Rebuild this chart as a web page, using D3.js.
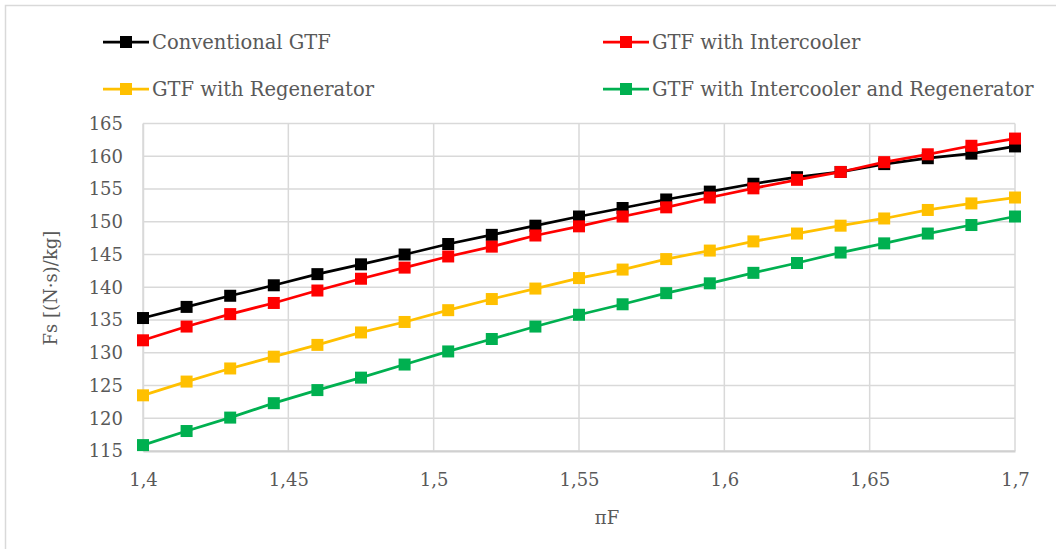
<!DOCTYPE html>
<html><head><meta charset="utf-8">
<script src="https://cdn.jsdelivr.net/npm/d3@7"></script>
<style>body{margin:0;background:#fff}svg{display:block}</style>
</head><body><svg id="c" width="1056" height="549"></svg>
<script>
const piF = [1.4,1.415,1.43,1.445,1.46,1.475,1.49,1.505,1.52,1.535,1.55,1.565,1.58,1.595,1.61,1.625,1.64,1.655,1.67,1.685,1.7];
const conventional = [135.3,137.0,138.7,140.3,142.0,143.5,145.0,146.6,148.0,149.4,150.8,152.1,153.4,154.6,155.8,156.8,157.6,158.8,159.7,160.4,161.5];
const intercooler = [131.9,134.0,135.9,137.6,139.5,141.3,143.0,144.7,146.2,147.9,149.3,150.8,152.2,153.7,155.1,156.4,157.6,159.1,160.3,161.6,162.7];
const regenerator = [123.5,125.6,127.6,129.4,131.2,133.1,134.7,136.5,138.2,139.8,141.4,142.7,144.3,145.6,147.0,148.2,149.4,150.5,151.8,152.8,153.7];
const interRegen = [115.9,118.05,120.1,122.3,124.3,126.2,128.2,130.2,132.1,134.0,135.8,137.4,139.1,140.6,142.2,143.7,145.3,146.7,148.2,149.5,150.8];
const seriesNames = ["Conventional GTF","GTF with Intercooler","GTF with Regenerator","GTF with Intercooler and Regenerator"];
const seriesColors = ["#000000","#FF0000","#FFC000","#00B050"];
const xTicks = [1.4,1.45,1.5,1.55,1.6,1.65,1.7];
const yTicks = [115,120,125,130,135,140,145,150,155,160,165];
const xTitle = "πF";
const yTitle = "Fs [(N·s)/kg]";

const allSeries = [conventional, intercooler, regenerator, interRegen];
const svg = d3.select("#c");
const font = "'DejaVu Serif', Georgia, serif";
const txt = "#595959";

svg.append("rect").attr("x",5.5).attr("y",5.5).attr("width",1100).attr("height",600)
  .attr("fill","none").attr("stroke","#d9d9d9").attr("stroke-width",1.5);

const x = d3.scaleLinear().domain([1.4,1.7]).range([143,1015]);
const y = d3.scaleLinear().domain([115,165]).range([451,123.5]);

const g = svg.append("g");
g.selectAll(".hg").data(yTicks).join("line")
  .attr("x1",x(1.4)).attr("x2",x(1.7)).attr("y1",d=>y(d)).attr("y2",d=>y(d))
  .attr("stroke","#d9d9d9").attr("stroke-width",1.5);
g.selectAll(".vg").data(xTicks).join("line")
  .attr("y1",y(115)).attr("y2",y(165)).attr("x1",d=>x(d)).attr("x2",d=>x(d))
  .attr("stroke","#d9d9d9").attr("stroke-width",1.5);

const fmt = d => String(d).replace(".",",");
const xAxis = svg.append("g").attr("transform",`translate(0,${y(115)})`)
  .call(d3.axisBottom(x).tickValues(xTicks).tickFormat(fmt).tickSize(0).tickPadding(22));
xAxis.select(".domain").attr("stroke","#d0d0d0").attr("stroke-width",2);
xAxis.selectAll("text").attr("font-family",font).attr("font-size",18).attr("fill",txt);

const yAxis = svg.append("g").attr("transform",`translate(${x(1.4)},0)`)
  .call(d3.axisLeft(y).tickValues(yTicks).tickSize(0).tickPadding(20));
yAxis.select(".domain").attr("stroke","#d9d9d9").attr("stroke-width",1.5);
yAxis.selectAll("text").attr("font-family",font).attr("font-size",18).attr("fill",txt);

svg.append("text").attr("x",607).attr("y",524).attr("text-anchor","middle")
  .attr("font-family",font).attr("font-size",18).attr("fill",txt).text(xTitle);
svg.append("text").attr("transform","translate(57,288) rotate(-90)").attr("text-anchor","middle")
  .attr("font-family",font).attr("font-size",18).attr("fill",txt).text(yTitle);

const line = d3.line().x((d,i)=>x(piF[i])).y(d=>y(d));
const ms = 12;
allSeries.forEach((s,k)=>{
  const sg = svg.append("g");
  sg.append("path").datum(s).attr("d",line).attr("fill","none")
    .attr("stroke",seriesColors[k]).attr("stroke-width",2.75);
  sg.selectAll("rect").data(s).join("rect")
    .attr("x",(d,i)=>x(piF[i])-ms/2).attr("y",d=>y(d)-ms/2)
    .attr("width",ms).attr("height",ms).attr("fill",seriesColors[k]);
});

const legPos = [[103,42],[603,42],[103,89],[603,89]];
seriesNames.forEach((n,k)=>{
  const [lx,ly] = legPos[k];
  const lg = svg.append("g");
  lg.append("line").attr("x1",lx).attr("x2",lx+46).attr("y1",ly).attr("y2",ly)
    .attr("stroke",seriesColors[k]).attr("stroke-width",2.75);
  lg.append("rect").attr("x",lx+23-ms/2).attr("y",ly-ms/2).attr("width",ms).attr("height",ms)
    .attr("fill",seriesColors[k]);
  lg.append("text").attr("x",lx+49).attr("y",ly+7).attr("font-family",font)
    .attr("font-size",19.5).attr("fill",txt).text(n);
});
</script></body></html>
